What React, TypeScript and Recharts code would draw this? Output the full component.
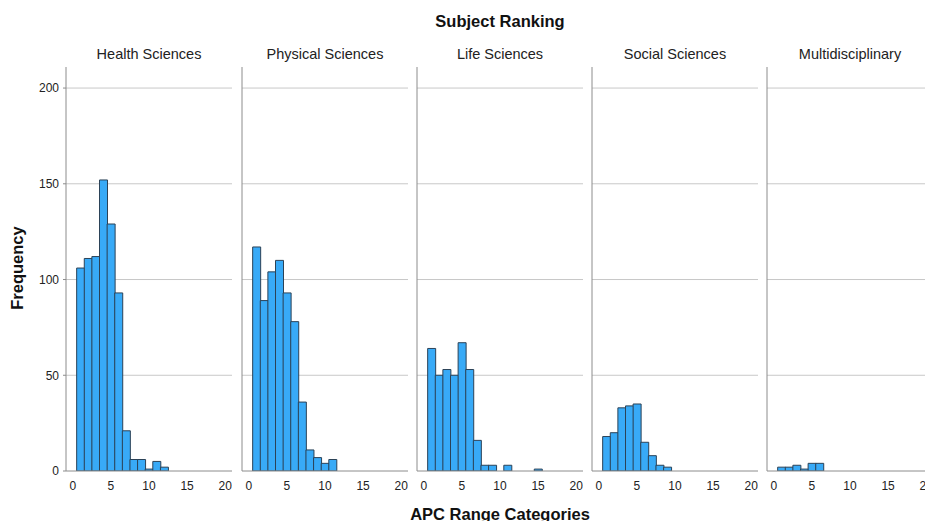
// Faceted histogram: APC range categories by subject ranking
import { BarChart, Bar, XAxis, YAxis, CartesianGrid } from "recharts";

const subjects = [
  "Health Sciences",
  "Physical Sciences",
  "Life Sciences",
  "Social Sciences",
  "Multidisciplinary",
];

// frequencies for APC range category 1, 2, 3, ...
const health = [106, 111, 112, 152, 129, 93, 21, 6, 6, 1, 5, 2];
const physical = [117, 89, 104, 110, 93, 78, 36, 11, 7, 4, 6];
const life = [64, 50, 53, 50, 67, 53, 16, 3, 3, 0, 3, 0, 0, 0, 1];
const social = [18, 20, 33, 34, 35, 15, 8, 3, 2];
const multi = [2, 2, 3, 1, 4, 4];

const xTicks = [0, 5, 10, 15, 20];
const yTicks = [0, 50, 100, 150, 200];
const gridValues = [50, 100, 150, 200];

const series = [health, physical, life, social, multi];
const panelLeft = [0, 242, 417, 592, 767];

const FONT = "'Liberation Sans', Arial, sans-serif";

// keeps the y ticks (so the grid follows them) but draws no label
const EmptyTick = () => <g />;

function Panel({ values, index }: { values: number[]; index: number }) {
  const data = values.map((v, i) => ({ cat: i + 1, count: v }));
  const first = index === 0;
  const yw = first ? 66 : 1;
  const width = yw + 166;
  return (
    <div style={{ position: "absolute", left: panelLeft[index] - (first ? 0 : 1), top: 0 }}>
      <BarChart
        width={width}
        height={500}
        data={data}
        margin={{ top: 67, right: 0, bottom: 0, left: 0 }}
        barCategoryGap={0}
        barGap={0}
      >
        <CartesianGrid
          vertical={false}
          horizontalValues={gridValues}
          stroke="#c8c8c8"
        />
        <XAxis
          dataKey="cat"
          type="number"
          domain={[-0.9, 20.9]}
          ticks={xTicks}
          tickLine={false}
          height={29}
          stroke="#8c8c8c"
          tick={{ fill: "#222", fontSize: 12, fontFamily: FONT }}
          tickMargin={4}
          allowDataOverflow
        />
        <YAxis
          domain={[0, 211]}
          ticks={yTicks}
          width={yw}
          stroke="#8c8c8c"
          tick={first ? { fill: "#222", fontSize: 12, fontFamily: FONT } : <EmptyTick />}
          tickLine={first ? { stroke: "#8c8c8c" } : false}
          tickSize={3}
          tickMargin={4}
          allowDataOverflow
        />
        <Bar
          dataKey="count"
          fill="#38aaf7"
          stroke="#2b4257"
          strokeWidth={1}
          isAnimationActive={false}
        />
      </BarChart>
    </div>
  );
}

export default function App() {
  return (
    <div
      style={{
        position: "absolute",
        left: 0,
        top: 0,
        width: 925,
        height: 521,
        overflow: "hidden",
        background: "#fff",
        fontFamily: FONT,
        color: "#111",
      }}
    >
      {series.map((s, i) => (
        <Panel key={i} values={s} index={i} />
      ))}
      {subjects.map((name, i) => (
        <div
          key={name}
          style={{
            position: "absolute",
            left: panelLeft[i] + (i === 0 ? 66 : 0),
            top: 46,
            width: 166,
            textAlign: "center",
            fontSize: 14.5,
            color: "#222",
          }}
        >
          {name}
        </div>
      ))}
      <div
        style={{
          position: "absolute",
          left: 0,
          width: 1000,
          top: 12,
          textAlign: "center",
          fontSize: 16.5,
          fontWeight: "bold",
        }}
      >
        Subject Ranking
      </div>
      <div
        style={{
          position: "absolute",
          left: 0,
          width: 1000,
          top: 505,
          textAlign: "center",
          fontSize: 16.5,
          fontWeight: "bold",
        }}
      >
        APC Range Categories
      </div>
      <div
        style={{
          position: "absolute",
          left: 17,
          top: 268,
          transform: "translate(-50%, -50%) rotate(-90deg)",
          fontSize: 16.5,
          fontWeight: "bold",
          whiteSpace: "nowrap",
        }}
      >
        Frequency
      </div>
    </div>
  );
}
